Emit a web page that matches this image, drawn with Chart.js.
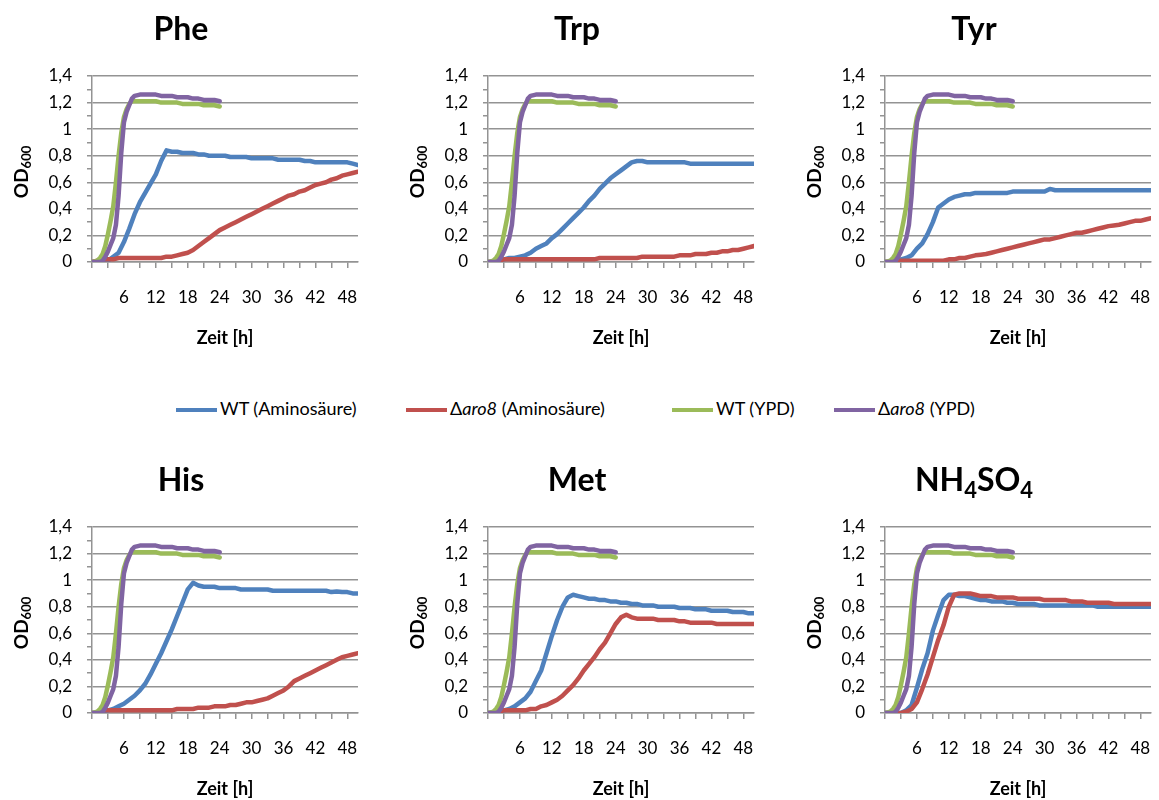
<!DOCTYPE html>
<html>
<head>
<meta charset="utf-8">
<script src="https://cdn.jsdelivr.net/npm/chart.js@4.4.0/dist/chart.umd.min.js"></script>
<style>
  html, body { margin: 0; padding: 0; background: #fff; overflow: hidden; }
  #wrap { position: relative; width: 1159px; height: 800px; }
  .panel { position: absolute; width: 366px; height: 352px; }
  #legend { position: absolute; left: 0; top: 396px; width: 1159px; height: 24px;
    font-family: Lato, sans-serif; font-size: 18px; color: #000; }
  .item { position: absolute; top: 0; height: 24px; line-height: 24px; white-space: nowrap; }
  .swatch { display: inline-block; width: 41px; height: 4px; vertical-align: middle; margin-right: 3px; }
</style>
</head>
<body>
<div id="wrap">
  <div class="panel" style="left:0;top:0"><canvas id="phe" width="366" height="352"></canvas></div>
  <div class="panel" style="left:396px;top:0"><canvas id="trp" width="366" height="352"></canvas></div>
  <div class="panel" style="left:793px;top:0"><canvas id="tyr" width="366" height="352"></canvas></div>
  <div class="panel" style="left:0;top:451px"><canvas id="his" width="366" height="352"></canvas></div>
  <div class="panel" style="left:396px;top:451px"><canvas id="met" width="366" height="352"></canvas></div>
  <div class="panel" style="left:793px;top:451px"><canvas id="nh4" width="366" height="352"></canvas></div>

  <div id="legend">
    <div class="item" style="left:176px"><span class="swatch" style="background:#4F81BD"></span>WT (Aminosäure)</div>
    <div class="item" style="left:406px"><span class="swatch" style="background:#C0504D"></span>Δ<i>aro8</i> (Aminosäure)</div>
    <div class="item" style="left:672px"><span class="swatch" style="background:#9BBB59"></span>WT (YPD)</div>
    <div class="item" style="left:834px"><span class="swatch" style="background:#8064A2"></span>Δ<i>aro8</i> (YPD)</div>
  </div>
</div>

<script>
// sampling times (h) of the amino acid cultures, hourly
const hours = [
  0, 1, 2, 3, 4, 5, 6, 7, 8, 9,
  10, 11, 12, 13, 14, 15, 16, 17, 18, 19,
  20, 21, 22, 23, 24, 25, 26, 27, 28, 29,
  30, 31, 32, 33, 34, 35, 36, 37, 38, 39,
  40, 41, 42, 43, 44, 45, 46, 47, 48, 49,
  50
];
const xTickHours = [0, 3, 6, 9, 12, 15, 18, 21, 24, 27, 30, 33, 36, 39, 42, 45, 48];

// YPD reference cultures (same in every panel)
const ypdHours = [0, 1, 1.5, 2, 2.5, 3, 3.5, 4, 4.5, 5, 5.5, 6, 6.5, 7, 7.5, 8,
  9, 10, 11, 12, 13, 14, 15, 16, 17, 18, 19, 20, 21, 22, 23, 24];
const wtYpd = [0, 0.01, 0.03, 0.06, 0.12, 0.21, 0.31, 0.42, 0.60, 0.80, 0.97, 1.09, 1.15, 1.19, 1.21, 1.21,
  1.21, 1.21, 1.21, 1.21, 1.20, 1.20, 1.20, 1.20, 1.19, 1.19, 1.19, 1.19, 1.18, 1.18, 1.18, 1.17];
const aro8Ypd = [0, 0, 0, 0.01, 0.04, 0.08, 0.13, 0.18, 0.28, 0.50, 0.82, 1.05, 1.13, 1.18, 1.23, 1.25,
  1.26, 1.26, 1.26, 1.26, 1.25, 1.25, 1.25, 1.24, 1.24, 1.24, 1.23, 1.23, 1.22, 1.22, 1.22, 1.21];

// OD600 per hour, WT and Δaro8 on each amino acid
const pheWt = [
  0, 0, 0, 0.01, 0.04, 0.07, 0.15, 0.25, 0.36, 0.45,
  0.52, 0.59, 0.66, 0.76, 0.84, 0.83, 0.83, 0.82, 0.82, 0.82,
  0.81, 0.81, 0.80, 0.80, 0.80, 0.80, 0.79, 0.79, 0.79, 0.79,
  0.78, 0.78, 0.78, 0.78, 0.78, 0.77, 0.77, 0.77, 0.77, 0.77,
  0.76, 0.76, 0.75, 0.75, 0.75, 0.75, 0.75, 0.75, 0.75, 0.74,
  0.73
];
const pheAro8 = [
  0, 0.01, 0.02, 0.02, 0.02, 0.03, 0.03, 0.03, 0.03, 0.03,
  0.03, 0.03, 0.03, 0.03, 0.04, 0.04, 0.05, 0.06, 0.07, 0.09,
  0.12, 0.15, 0.18, 0.21, 0.24, 0.26, 0.28, 0.30, 0.32, 0.34,
  0.36, 0.38, 0.40, 0.42, 0.44, 0.46, 0.48, 0.50, 0.51, 0.53,
  0.54, 0.56, 0.58, 0.59, 0.60, 0.62, 0.63, 0.65, 0.66, 0.67,
  0.68
];
const trpWt = [
  0, 0, 0.01, 0.02, 0.03, 0.03, 0.04, 0.05, 0.07, 0.10,
  0.12, 0.14, 0.18, 0.21, 0.25, 0.29, 0.33, 0.37, 0.41, 0.46,
  0.50, 0.55, 0.59, 0.63, 0.66, 0.69, 0.72, 0.75, 0.76, 0.76,
  0.75, 0.75, 0.75, 0.75, 0.75, 0.75, 0.75, 0.75, 0.74, 0.74,
  0.74, 0.74, 0.74, 0.74, 0.74, 0.74, 0.74, 0.74, 0.74, 0.74,
  0.74
];
const trpAro8 = [
  0, 0, 0.01, 0.02, 0.02, 0.02, 0.02, 0.02, 0.02, 0.02,
  0.02, 0.02, 0.02, 0.02, 0.02, 0.02, 0.02, 0.02, 0.02, 0.02,
  0.02, 0.03, 0.03, 0.03, 0.03, 0.03, 0.03, 0.03, 0.03, 0.04,
  0.04, 0.04, 0.04, 0.04, 0.04, 0.04, 0.05, 0.05, 0.05, 0.06,
  0.06, 0.06, 0.07, 0.07, 0.08, 0.08, 0.09, 0.09, 0.10, 0.11,
  0.12
];
const tyrWt = [
  0, 0, 0, 0.02, 0.03, 0.05, 0.10, 0.14, 0.21, 0.30,
  0.41, 0.44, 0.47, 0.49, 0.50, 0.51, 0.51, 0.52, 0.52, 0.52,
  0.52, 0.52, 0.52, 0.52, 0.53, 0.53, 0.53, 0.53, 0.53, 0.53,
  0.53, 0.55, 0.54, 0.54, 0.54, 0.54, 0.54, 0.54, 0.54, 0.54,
  0.54, 0.54, 0.54, 0.54, 0.54, 0.54, 0.54, 0.54, 0.54, 0.54,
  0.54
];
const tyrAro8 = [
  0, 0, 0.01, 0.01, 0.01, 0.01, 0.01, 0.01, 0.01, 0.01,
  0.01, 0.01, 0.02, 0.02, 0.03, 0.03, 0.04, 0.05, 0.055, 0.06,
  0.07, 0.08, 0.09, 0.10, 0.11, 0.12, 0.13, 0.14, 0.15, 0.16,
  0.17, 0.17, 0.18, 0.19, 0.20, 0.21, 0.22, 0.22, 0.23, 0.24,
  0.25, 0.26, 0.27, 0.275, 0.28, 0.29, 0.30, 0.31, 0.31, 0.32,
  0.33
];
const hisWt = [
  0, 0, 0.01, 0.02, 0.03, 0.05, 0.07, 0.10, 0.13, 0.17,
  0.22, 0.29, 0.37, 0.45, 0.54, 0.63, 0.73, 0.83, 0.93, 0.98,
  0.96, 0.95, 0.95, 0.95, 0.94, 0.94, 0.94, 0.94, 0.93, 0.93,
  0.93, 0.93, 0.93, 0.93, 0.92, 0.92, 0.92, 0.92, 0.92, 0.92,
  0.92, 0.92, 0.92, 0.92, 0.92, 0.91, 0.915, 0.91, 0.91, 0.90,
  0.90
];
const hisAro8 = [
  0, 0, 0.02, 0.02, 0.02, 0.02, 0.02, 0.02, 0.02, 0.02,
  0.02, 0.02, 0.02, 0.02, 0.02, 0.02, 0.03, 0.03, 0.03, 0.03,
  0.04, 0.04, 0.04, 0.05, 0.05, 0.05, 0.06, 0.06, 0.07, 0.08,
  0.08, 0.09, 0.10, 0.11, 0.13, 0.15, 0.17, 0.20, 0.24, 0.26,
  0.28, 0.30, 0.32, 0.34, 0.36, 0.38, 0.40, 0.42, 0.43, 0.44,
  0.45
];
const metWt = [
  0, 0, 0.01, 0.02, 0.03, 0.05, 0.08, 0.11, 0.16, 0.24,
  0.32, 0.45, 0.58, 0.70, 0.80, 0.87, 0.89, 0.88, 0.87, 0.86,
  0.86, 0.85, 0.85, 0.84, 0.84, 0.83, 0.83, 0.82, 0.82, 0.81,
  0.81, 0.81, 0.80, 0.80, 0.80, 0.80, 0.79, 0.79, 0.79, 0.78,
  0.78, 0.78, 0.77, 0.77, 0.77, 0.77, 0.76, 0.76, 0.76, 0.75,
  0.75
];
const metAro8 = [
  0, 0, 0.01, 0.02, 0.02, 0.02, 0.02, 0.02, 0.03, 0.03,
  0.05, 0.06, 0.08, 0.10, 0.13, 0.17, 0.21, 0.26, 0.32, 0.37,
  0.42, 0.48, 0.53, 0.60, 0.67, 0.72, 0.74, 0.72, 0.71, 0.71,
  0.71, 0.71, 0.70, 0.70, 0.70, 0.70, 0.69, 0.69, 0.68, 0.68,
  0.68, 0.68, 0.68, 0.67, 0.67, 0.67, 0.67, 0.67, 0.67, 0.67,
  0.67
];
const nh4Wt = [
  0, 0, 0, 0, 0.02, 0.06, 0.19, 0.33, 0.45, 0.62,
  0.74, 0.85, 0.89, 0.89, 0.88, 0.88, 0.87, 0.86, 0.85, 0.85,
  0.84, 0.84, 0.84, 0.83, 0.83, 0.82, 0.82, 0.82, 0.82, 0.81,
  0.81, 0.81, 0.81, 0.81, 0.81, 0.81, 0.81, 0.81, 0.81, 0.81,
  0.80, 0.80, 0.80, 0.80, 0.80, 0.80, 0.80, 0.80, 0.80, 0.80,
  0.80
];
const nh4Aro8 = [
  0, 0, 0, 0, 0.01, 0.03, 0.08, 0.18, 0.29, 0.42,
  0.55, 0.66, 0.80, 0.89, 0.90, 0.90, 0.90, 0.89, 0.88, 0.88,
  0.88, 0.87, 0.87, 0.87, 0.87, 0.86, 0.86, 0.86, 0.86, 0.86,
  0.85, 0.85, 0.85, 0.85, 0.85, 0.84, 0.84, 0.84, 0.83, 0.83,
  0.83, 0.83, 0.83, 0.82, 0.82, 0.82, 0.82, 0.82, 0.82, 0.82,
  0.82
];

const panels = [
  { id: 'phe', title: 'Phe', wt: pheWt, aro8: pheAro8 },
  { id: 'trp', title: 'Trp', wt: trpWt, aro8: trpAro8 },
  { id: 'tyr', title: 'Tyr', wt: tyrWt, aro8: tyrAro8 },
  { id: 'his', title: 'His', wt: hisWt, aro8: hisAro8 },
  { id: 'met', title: 'Met', wt: metWt, aro8: metAro8 },
  { id: 'nh4', title: 'NH4SO4', wt: nh4Wt, aro8: nh4Aro8 }
];

const BLUE = '#4F81BD', RED = '#C0504D', GREEN = '#9BBB59', PURPLE = '#8064A2';
const GRID = '#939393';

Chart.defaults.font.family = 'Lato, "Open Sans", sans-serif';

// draws text where digit runs are set as subscripts (NH4SO4, OD600)
function drawSubText(ctx, text, cx, baseline, size, subSize, drop) {
  const runs = text.match(/\d+|\D+/g);
  const fontOf = r => (/\d/.test(r[0]) ? 'bold ' + subSize : 'bold ' + size) + 'px Lato, sans-serif';
  let total = 0;
  runs.forEach(r => { ctx.font = fontOf(r); total += ctx.measureText(r).width; });
  let x = cx - total / 2;
  ctx.textAlign = 'left';
  ctx.textBaseline = 'alphabetic';
  runs.forEach(r => {
    ctx.font = fontOf(r);
    ctx.fillText(r, x, baseline + (/\d/.test(r[0]) ? drop : 0));
    x += ctx.measureText(r).width;
  });
}

const panelText = {
  id: 'panelText',
  afterDraw(chart, args, opts) {
    const { ctx, chartArea } = chart;
    ctx.save();
    ctx.fillStyle = '#000';
    drawSubText(ctx, opts.title, chartArea.left + 89, 40, 32, 22, 7);
    ctx.translate(chartArea.left - 71, (chartArea.top + chartArea.bottom) / 2 + 3);
    ctx.rotate(-Math.PI / 2);
    drawSubText(ctx, 'OD600', 0, 7, 19, 13, 3);
    ctx.restore();
  }
};

const line = (label, xs, ys, color, order) => ({
  label,
  data: xs.map((x, i) => ({ x, y: ys[i] })),
  borderColor: color,
  backgroundColor: color,
  borderWidth: 4.5,
  pointRadius: 0,
  tension: 0,
  borderJoinStyle: 'round',
  borderCapStyle: 'round',
  order
});

panels.forEach(p => {
  new Chart(document.getElementById(p.id), {
    type: 'line',
    data: {
      datasets: [
        line('WT (Aminosäure)', hours, p.wt, BLUE, 4),
        line('Δaro8 (Aminosäure)', hours, p.aro8, RED, 3),
        line('WT (YPD)', ypdHours, wtYpd, GREEN, 2),
        line('Δaro8 (YPD)', ypdHours, aro8Ypd, PURPLE, 1)
      ]
    },
    plugins: [panelText],
    options: {
      responsive: false,
      animation: false,
      devicePixelRatio: 1,
      layout: { padding: { left: 0, top: 76, right: 8, bottom: 0 } },
      plugins: {
        legend: { display: false },
        tooltip: { enabled: false },
        panelText: { title: p.title }
      },
      scales: {
        x: {
          type: 'linear',
          min: 0,
          max: 50,
          afterBuildTicks: s => { s.ticks = xTickHours.map(v => ({ value: v })); },
          afterFit: s => { s.height = 90; s.paddingLeft = 0; s.paddingRight = 0; },
          ticks: {
            autoSkip: false,
            maxRotation: 0,
            padding: 19,
            color: '#000',
            font: { size: 17 },
            callback: v => (v > 0 && v % 6 === 0) ? String(v) : ''
          },
          grid: { drawOnChartArea: false, tickLength: 6, color: GRID, tickColor: GRID, lineWidth: 1.5 },
          border: { color: GRID, width: 1.5 },
          title: {
            display: true,
            text: 'Zeit [h]',
            color: '#000',
            font: { size: 18, weight: 'bold' },
            padding: { top: 0, bottom: 3 }
          }
        },
        y: {
          min: 0,
          max: 1.4,
          afterFit: s => { s.width = 92; },
          ticks: {
            stepSize: 0.1,
            autoSkip: false,
            padding: 15,
            color: '#000',
            font: { size: 17 },
            callback: v => {
              const k = Math.round(v * 10);
              return k % 2 ? '' : String(k / 10).replace('.', ',');
            }
          },
          grid: {
            tickLength: 5,
            lineWidth: 1.5,
            tickColor: GRID,
            color: c => (c.tick && Math.round(c.tick.value * 10) % 2) ? 'rgba(0,0,0,0)' : GRID
          },
          border: { color: GRID, width: 1.5 }
        }
      }
    }
  });
});
</script>
</body>
</html>
